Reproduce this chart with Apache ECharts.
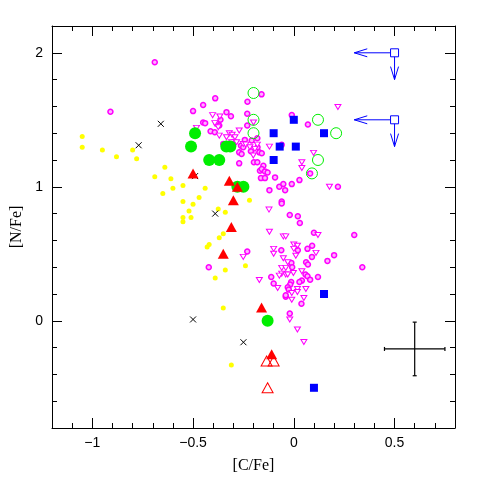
<!DOCTYPE html>
<html>
<head>
<meta charset="utf-8">
<script src="https://cdn.jsdelivr.net/npm/echarts@6.0.0/dist/echarts.min.js"></script>
<style>
  html, body { margin: 0; padding: 0; background: #fff; }
  #chart { width: 480px; height: 480px; }
</style>
</head>
<body>
<div id="chart"></div>
<script>
// [C/Fe], [N/Fe] pairs
const magentaRings = [
  [-0.69, 1.93], [-0.91, 1.56],
  [-0.16, 1.69], [-0.39, 1.66], [-0.45, 1.61], [-0.50, 1.565], [-0.23, 1.635],
  [-0.334, 1.557], [-0.312, 1.527], [-0.231, 1.545], [-0.01, 1.535],
  [-0.45, 1.48], [-0.44, 1.475], [-0.364, 1.50], [-0.383, 1.47], [-0.37, 1.457],
  [-0.413, 1.415], [-0.392, 1.407], [-0.231, 1.457], [0.07, 1.465],
  [-0.35, 1.32], [-0.306, 1.33], [-0.296, 1.337], [-0.243, 1.35], [-0.209, 1.345], [-0.181, 1.362],
  [-0.262, 1.307], [-0.251, 1.295], [-0.271, 1.257], [-0.259, 1.245], [-0.213, 1.265], [-0.18, 1.295],
  [-0.171, 1.257], [-0.159, 1.25], [-0.06, 1.313],
  [-0.271, 1.175], [-0.198, 1.183], [-0.181, 1.183], [-0.151, 1.157], [-0.168, 1.12], [-0.159, 1.133],
  [-0.143, 1.115], [-0.13, 1.107], [-0.163, 1.065], [-0.143, 1.065], [-0.093, 1.07],
  [-0.121, 0.975], [-0.072, 1.0], [-0.043, 0.975], [-0.052, 1.02], [-0.01, 1.02], [0.028, 1.05],
  [0.081, 1.1], [0.219, 1.0], [-0.06, 0.89], [-0.06, 0.875],
  [-0.02, 0.79], [0.02, 0.78], [0.03, 0.73], [0.10, 0.657], [0.30, 0.64], [0.091, 0.56], [0.068, 0.537],
  [0.02, 0.527], [-0.062, 0.527], [-0.231, 0.517], [0.09, 0.477], [0.167, 0.447], [0.20, 0.49],
  [-0.012, 0.432], [-0.008, 0.40], [0.061, 0.437], [0.07, 0.42], [0.34, 0.40], [0.058, 0.345],
  [0.068, 0.332], [0.081, 0.307], [0.12, 0.327], [0.04, 0.30], [0.028, 0.29], [-0.013, 0.29],
  [-0.018, 0.27], [-0.112, 0.327], [-0.10, 0.278], [-0.03, 0.25], [-0.025, 0.233], [-0.04, 0.18],
  [-0.04, 0.19], [0.038, 0.127], [-0.02, 0.055], [-0.422, 0.40]
];
const magentaTris = [
  [0.219, 1.595], [-0.403, 1.535], [-0.367, 1.525], [-0.392, 1.475], [-0.375, 1.445], [-0.483, 1.44],
  [-0.271, 1.42], [-0.20, 1.48], [-0.32, 1.40], [-0.306, 1.388], [-0.37, 1.382], [-0.334, 1.37],
  [-0.292, 1.37], [-0.309, 1.332], [-0.284, 1.332], [-0.251, 1.32], [-0.238, 1.315], [-0.218, 1.295],
  [-0.193, 1.283], [-0.181, 1.315], [-0.121, 1.30], [-0.201, 1.233], [0.098, 1.253], [0.04, 1.183],
  [0.04, 1.14], [0.177, 1.0],
  [-0.123, 0.83], [-0.121, 0.665], [0.12, 0.64], [-0.052, 0.63], [-0.04, 0.63], [0.0, 0.57],
  [0.018, 0.56], [-0.10, 0.537], [-0.10, 0.50], [0.0, 0.537], [0.11, 0.507], [0.01, 0.485],
  [-0.052, 0.467], [-0.251, 0.477], [-0.03, 0.437], [-0.06, 0.395], [-0.04, 0.395], [-0.002, 0.357],
  [-0.06, 0.352], [-0.072, 0.337], [-0.04, 0.345], [-0.03, 0.345], [0.04, 0.37], [-0.171, 0.305],
  [-0.08, 0.245], [0.018, 0.237], [0.018, 0.215], [0.06, 0.237], [-0.01, 0.207], [0.05, 0.17],
  [-0.01, 0.157], [-0.02, 0.01], [0.018, -0.065], [0.05, -0.158]
];
const yellowDots = [
  [-1.05, 1.375], [-1.05, 1.295], [-0.95, 1.275], [-0.88, 1.225], [-0.80, 1.275], [-0.78, 1.21],
  [-0.64, 1.145], [-0.69, 1.075], [-0.61, 1.06], [-0.55, 1.01], [-0.60, 0.99], [-0.65, 0.95],
  [-0.44, 0.99], [-0.47, 0.92], [-0.55, 0.89], [-0.50, 0.87], [-0.52, 0.82], [-0.55, 0.77],
  [-0.55, 0.74], [-0.51, 0.77], [-0.22, 0.90], [-0.375, 0.835], [-0.34, 0.81], [-0.35, 0.65],
  [-0.37, 0.62], [-0.42, 0.57], [-0.43, 0.55], [-0.24, 0.41], [-0.34, 0.38], [-0.39, 0.32],
  [-0.35, 0.095], [-0.31, -0.33]
];
const blackCrosses = [[-0.66, 1.47], [-0.77, 1.31], [-0.49, 1.08], [-0.39, 0.8], [-0.5, 0.01], [-0.25, -0.16]];
const greenFilled = [[-0.49, 1.4], [-0.51, 1.3], [-0.335, 1.3], [-0.315, 1.3], [-0.42, 1.2], [-0.37, 1.2],
  [-0.28, 1.0], [-0.25, 1.0], [-0.13, 0.0]];
const greenOpen = [[-0.2, 1.7], [-0.2, 1.5], [-0.2, 1.4], [0.12, 1.5], [0.21, 1.4], [0.12, 1.2], [0.09, 1.1]];
const redFilled = [[-0.5, 1.1], [-0.32, 1.045], [-0.28, 1.0], [-0.30, 0.9], [-0.31, 0.7], [-0.35, 0.5],
  [-0.16, 0.1], [-0.11, -0.25]];
const redOpen = [[-0.135, -0.3], [-0.1, -0.3], [-0.13, -0.5]];
const blueSquares = [[0, 1.5], [-0.1, 1.4], [0.15, 1.4], [-0.07, 1.3], [0.01, 1.3], [-0.1, 1.2], [0.15, 0.2], [0.1, -0.5]];
// x, y, arrow end in x, arrow end in y
const upperLimits = [[0.5, 2.0, 0.3, 1.8], [0.5, 1.5, 0.3, 1.3]];
// x, y, x error, y error
const errorBar = [[0.6, -0.21, 0.15, 0.2]];
const xTickLabels = [-1, -0.5, 0, 0.5];
const yTickLabels = [0, 1, 2];

const numFont = 'Liberation Sans';
const nameFont = 'Liberation Serif';

function fmt(v) {
  const r = Math.round(v * 10) / 10;
  return r < 0 ? '\u2212' + Math.abs(r) : String(r);
}

function axes(dim, pos, min, max, interval, majors, withLabels, name) {
  const minor = {
    type: 'value', position: pos, min: min, max: max, interval: interval,
    axisLine: { show: true, onZero: false, lineStyle: { color: '#000', width: 1 } },
    axisTick: { show: true, inside: true, length: 5, lineStyle: { color: '#000' } },
    splitLine: { show: false },
    axisLabel: { show: false }
  };
  if (withLabels) {
    minor.axisLabel = {
      show: true, color: '#000', fontSize: 14, fontFamily: numFont, margin: dim === 'x' ? 8 : 9,
      showMinLabel: true, showMaxLabel: true,
      formatter: function (v) {
        return majors.some(m => Math.abs(m - v) < 1e-6) ? fmt(v) : '';
      }
    };
    minor.name = name;
    minor.nameLocation = 'middle';
    minor.nameGap = dim === 'x' ? 30 : 21;
    minor.nameTextStyle = { color: '#000', fontSize: 16, fontFamily: nameFont };
  }
  const major = {
    type: 'value', position: pos, min: min, max: max,
    axisLine: { show: false, onZero: false },
    axisTick: { show: true, inside: true, length: 10, customValues: majors, lineStyle: { color: '#000' } },
    splitLine: { show: false },
    axisLabel: { show: false }
  };
  return [minor, major];
}

const chart = echarts.init(document.getElementById('chart'));

function scatter(data, opts) {
  const s = Object.assign({ type: 'scatter', data: data, silent: true, xAxisIndex: 0, yAxisIndex: 0 }, opts);
  s.itemStyle = Object.assign({ opacity: 1 }, opts.itemStyle);
  return s;
}

const crossPath = 'path://M0,0L10,10M10,0L0,10';

chart.setOption({
  animation: false,
  grid: { left: 52, right: 25, top: 26, bottom: 52 },
  xAxis: [
    ...axes('x', 'bottom', -1.2, 0.8, 0.1, xTickLabels, true, '[C/Fe]'),
    ...axes('x', 'top', -1.2, 0.8, 0.1, xTickLabels, false)
  ],
  yAxis: [
    ...axes('y', 'left', -0.8, 2.2, 0.2, yTickLabels, true, '[N/Fe]'),
    ...axes('y', 'right', -0.8, 2.2, 0.2, yTickLabels, false)
  ],
  series: [
    scatter(yellowDots, { symbol: 'circle', symbolSize: 5, itemStyle: { color: '#ffff00' }, z: 2 }),
    scatter(magentaRings, { symbol: 'circle', symbolSize: 5,
      itemStyle: { color: '#ffb0ff', borderColor: '#ff00ff', borderWidth: 1.5 }, z: 3 }),
    scatter(magentaTris, { symbol: 'triangle', symbolRotate: 180, symbolSize: [6, 5],
      itemStyle: { color: '#ffffff', borderColor: '#ff00ff', borderWidth: 1 }, z: 3 }),
    scatter(blackCrosses, { symbol: crossPath, symbolSize: 6,
      itemStyle: { color: 'none', borderColor: '#000', borderWidth: 1 }, z: 4 }),
    scatter(greenFilled, { symbol: 'circle', symbolSize: 12, itemStyle: { color: '#00ee00' }, z: 5 }),
    scatter(greenOpen, { symbol: 'circle', symbolSize: 11,
      itemStyle: { color: 'rgba(0,0,0,0)', borderColor: '#00ee00', borderWidth: 1 }, z: 5 }),
    scatter(redFilled, { symbol: 'triangle', symbolSize: [11, 10], itemStyle: { color: '#ff0000' }, z: 6 }),
    scatter(redOpen, { symbol: 'triangle', symbolSize: [11, 10],
      itemStyle: { color: 'rgba(0,0,0,0)', borderColor: '#ff0000', borderWidth: 1 }, z: 6 }),
    scatter(blueSquares, { symbol: 'rect', symbolSize: 8, itemStyle: { color: '#0000ff' }, z: 7 }),
    {
      type: 'custom', data: upperLimits, silent: true, z: 7,
      encode: { x: 0, y: 1 },
      renderItem: function (params, api) {
        const c = api.coord([api.value(0), api.value(1)]);
        const l = api.coord([api.value(2), api.value(1)]);
        const d = api.coord([api.value(0), api.value(3)]);
        const st = { stroke: '#0000ff', lineWidth: 1, fill: null };
        const h = 4;
        return {
          type: 'group',
          children: [
            { type: 'rect', shape: { x: c[0] - 4, y: c[1] - 4, width: 8, height: 8 }, style: st },
            { type: 'line', shape: { x1: c[0] - 4, y1: c[1], x2: l[0], y2: l[1] }, style: st },
            { type: 'polyline', shape: { points: [[l[0] + 13, l[1] - h], [l[0], l[1]], [l[0] + 13, l[1] + h]] }, style: st },
            { type: 'line', shape: { x1: c[0], y1: c[1] + 4, x2: d[0], y2: d[1] }, style: st },
            { type: 'polyline', shape: { points: [[d[0] - h, d[1] - 13], [d[0], d[1]], [d[0] + h, d[1] - 13]] }, style: st }
          ]
        };
      }
    },
    {
      type: 'custom', data: errorBar, silent: true, z: 7,
      encode: { x: 0, y: 1 },
      renderItem: function (params, api) {
        const x = api.value(0), y = api.value(1), ex = api.value(2), ey = api.value(3);
        const l = api.coord([x - ex, y]), r = api.coord([x + ex, y]);
        const t = api.coord([x, y + ey]), b = api.coord([x, y - ey]);
        const st = { stroke: '#000', lineWidth: 1.2 };
        const cap = 2;
        return {
          type: 'group',
          children: [
            { type: 'line', shape: { x1: l[0], y1: l[1], x2: r[0], y2: r[1] }, style: st },
            { type: 'line', shape: { x1: t[0], y1: t[1], x2: b[0], y2: b[1] }, style: st },
            { type: 'line', shape: { x1: l[0], y1: l[1] - cap, x2: l[0], y2: l[1] + cap }, style: st },
            { type: 'line', shape: { x1: r[0], y1: r[1] - cap, x2: r[0], y2: r[1] + cap }, style: st },
            { type: 'line', shape: { x1: t[0] - cap, y1: t[1], x2: t[0] + cap, y2: t[1] }, style: st },
            { type: 'line', shape: { x1: b[0] - cap, y1: b[1], x2: b[0] + cap, y2: b[1] }, style: st }
          ]
        };
      }
    }
  ]
});
</script>
</body>
</html>
